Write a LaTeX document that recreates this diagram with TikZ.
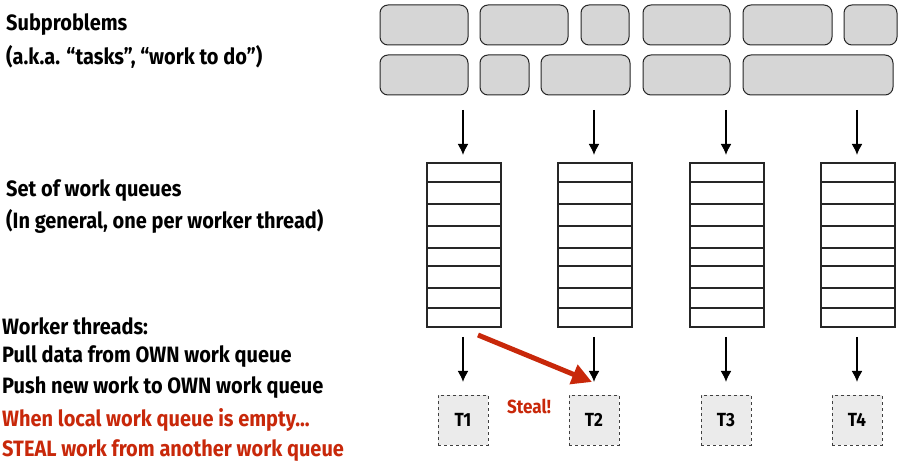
\documentclass[tikz,border=0pt]{standalone}
\usepackage{fontspec}
\usetikzlibrary{arrows.meta}
\setmainfont{Fira Sans}[FakeStretch=0.9]
\begin{document}
\begin{tikzpicture}[x=1pt,y=-1pt,
 sub/.style={draw=black!85,line width=1pt,fill=black!16,rounded corners=8pt},
 q/.style={draw=black!85,line width=1.2pt},
 arr/.style={-{Latex[length=11pt,width=11pt]},line width=1.8pt},
 thr/.style={draw=black!75,dashed,line width=1pt,fill=black!8,minimum width=50pt,minimum height=50pt,font=\bfseries\fontsize{19}{19}\selectfont},
 lbl/.style={anchor=west,font=\bfseries\fontsize{22.2}{24}\selectfont,inner sep=0pt}]
\useasboundingbox (0,0) rectangle (914,465);
\foreach \a/\b [count=\i] in {380/468,480/568,581/629,643/730,743/832,844/897}
  \draw[sub] (\a,5) rectangle (\b,45);
\foreach \a/\b in {380/468,480/529,541/630,643/730,743/893}
  \draw[sub] (\a,55) rectangle (\b,95);
\foreach \x/\t [count=\i] in {427/T1,558/T2,690/T3,821/T4}{
  \draw[q] (\x,163) rectangle ++(74,164);
  \foreach \yy in {182,204,226,248,266,288,308} \draw[q] (\x,\yy) -- ++(74,0);
  \coordinate (ta\i) at (\x+36,110);
  \coordinate (tb\i) at (\x+36,155);
  \coordinate (ba\i) at (\x+36,337);
  \coordinate (bb\i) at (\x+36,382);
  \node[thr] (t\i) at (\x+36,420) {\t};
  \draw[arr] (ta\i) -- (tb\i);
  \draw[arr] (ba\i) -- (bb\i);
}
\coordinate (s0) at (478,335);
\coordinate (s1) at (592,382);
\draw[-{Triangle[length=20pt,width=20pt]},line width=5pt,draw={rgb,255:red,200;green,40;blue,10},fill={rgb,255:red,200;green,40;blue,10}] (s0) -- (s1);
\node[font=\bfseries\fontsize{19}{19}\selectfont,text={rgb,255:red,200;green,40;blue,10}] (st) at (529,406) {Steal!};
\node[lbl] (l1) at (6,25) {Subproblems};
\node[lbl] (l2) at (6,57) {(a.k.a. “tasks”, “work to do”)};
\node[lbl] (l3) at (6,191) {Set of work queues};
\node[lbl] (l4) at (6,221) {(In general, one per worker thread)};
\node[lbl] (l5) at (2,326) {Worker threads:};
\node[lbl] (l6) at (2,357) {Pull data from OWN work queue};
\node[lbl] (l7) at (2,388) {Push new work to OWN work queue};
\node[lbl,text={rgb,255:red,200;green,40;blue,10}] (l8) at (2,420) {When local work queue is empty...};
\node[lbl,text={rgb,255:red,200;green,40;blue,10}] (l9) at (2,451) {STEAL work from another work queue};
\end{tikzpicture}
\end{document}
